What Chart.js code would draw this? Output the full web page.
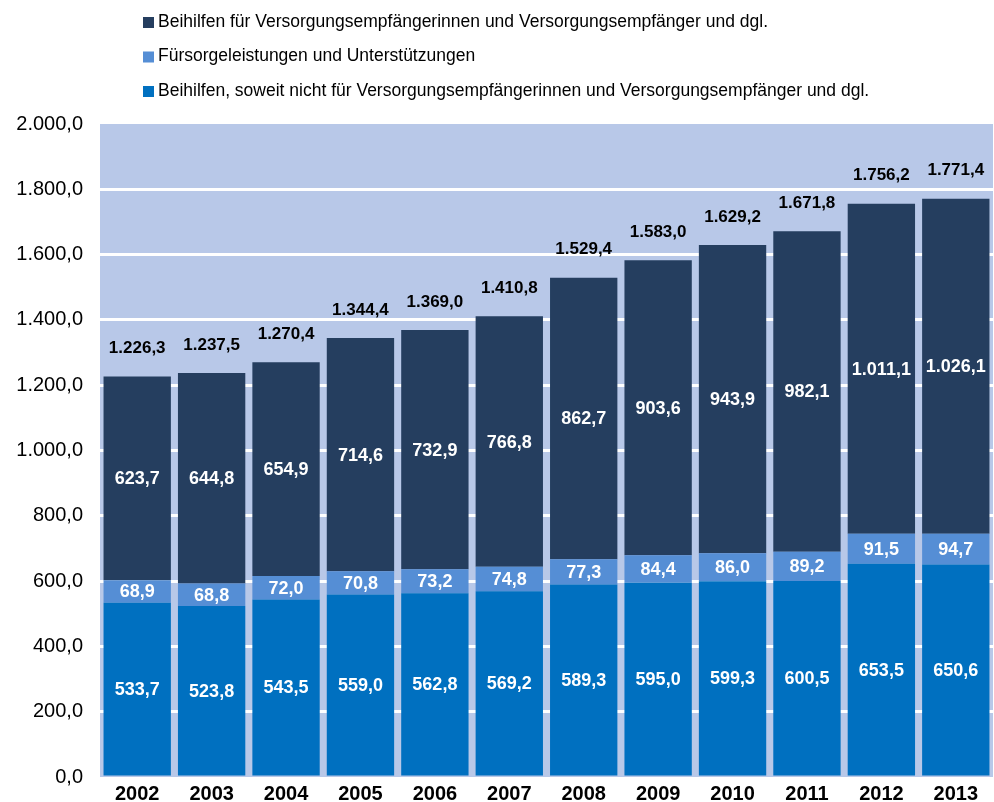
<!doctype html>
<html>
<head>
<title>Beihilfen</title>
<script src="https://cdn.jsdelivr.net/npm/chart.js@4.4.9/dist/chart.umd.min.js"></script>
<script>
const years = ['2002','2003','2004','2005','2006','2007','2008','2009','2010','2011','2012','2013'];
const beihilfenOhne = [533.7, 523.8, 543.5, 559.0, 562.8, 569.2, 589.3, 595.0, 599.3, 600.5, 653.5, 650.6];
const fuersorge = [68.9, 68.8, 72.0, 70.8, 73.2, 74.8, 77.3, 84.4, 86.0, 89.2, 91.5, 94.7];
const beihilfenVers = [623.7, 644.8, 654.9, 714.6, 732.9, 766.8, 862.7, 903.6, 943.9, 982.1, 1011.1, 1026.1];
const totals = [1226.3, 1237.5, 1270.4, 1344.4, 1369.0, 1410.8, 1529.4, 1583.0, 1629.2, 1671.8, 1756.2, 1771.4];

const FONT = '"Liberation Sans", Arial, sans-serif';

function fmt(v) {
  let [i, d] = v.toFixed(1).split('.');
  i = i.replace(/\B(?=(\d{3})+(?!\d))/g, '.');
  return i + ',' + d;
}

// light blue plot area behind everything
const plotBg = {
  id: 'plotBg',
  beforeDraw(chart) {
    const {ctx, chartArea: a} = chart;
    ctx.save();
    ctx.fillStyle = '#b8c8e8';
    ctx.fillRect(a.left, a.top, a.right - a.left, a.bottom - a.top);
    ctx.restore();
  }
};

// values in the segments and totals on top
const labels = {
  id: 'labels',
  afterDatasetsDraw(chart) {
    const ctx = chart.ctx;
    ctx.save();
    ctx.textAlign = 'center';
    ctx.textBaseline = 'middle';
    ctx.font = 'bold 18px ' + FONT;
    ctx.fillStyle = '#ffffff';
    chart.data.datasets.forEach((ds, di) => {
      chart.getDatasetMeta(di).data.forEach((bar, i) => {
        ctx.fillText(fmt(ds.data[i]), bar.x, (bar.y + bar.base) / 2 + 1);
      });
    });
    ctx.fillStyle = '#000000';
    ctx.font = 'bold 17px ' + FONT;
    const top = chart.getDatasetMeta(chart.data.datasets.length - 1).data;
    top.forEach((bar, i) => {
      ctx.fillText(fmt(totals[i]), bar.x, bar.y - 28);
    });
    ctx.restore();
  }
};

// legend in the order of the original, top series first
const legendBox = {
  id: 'legendBox',
  afterDraw(chart) {
    const ctx = chart.ctx;
    const items = chart.data.datasets.slice().reverse();
    ctx.save();
    ctx.font = '17.5px ' + FONT;
    ctx.textBaseline = 'middle';
    ctx.textAlign = 'left';
    items.forEach((ds, k) => {
      const y = 22 + k * 34.5;
      ctx.fillStyle = ds.backgroundColor;
      ctx.fillRect(143, y - 5, 11, 11);
      ctx.fillStyle = '#000000';
      ctx.fillText(ds.label, 158, y);
    });
    ctx.restore();
  }
};

function go() {
  new Chart(document.getElementById('c'), {
    type: 'bar',
    data: {
      labels: years,
      datasets: [
        { label: 'Beihilfen, soweit nicht für Versorgungsempfängerinnen und Versorgungsempfänger und dgl.',
          data: beihilfenOhne, backgroundColor: '#0070c0' },
        { label: 'Fürsorgeleistungen und Unterstützungen',
          data: fuersorge, backgroundColor: '#558ed5' },
        { label: 'Beihilfen für Versorgungsempfängerinnen und Versorgungsempfänger und dgl.',
          data: beihilfenVers, backgroundColor: '#253e5f' },
      ]
    },
    options: {
      responsive: false,
      animation: false,
      categoryPercentage: 1,
      barPercentage: 0.905,
      layout: { padding: { top: 124, right: 1, bottom: 0, left: 0 } },
      plugins: {
        legend: { display: false },
        tooltip: { enabled: false },
      },
      scales: {
        x: {
          stacked: true,
          grid: { display: false, drawTicks: false, tickLength: 0 },
          border: { display: false },
          ticks: { color: '#000', font: { family: FONT, size: 20, weight: 'bold', lineHeight: 1 }, padding: 7 },
          afterFit(s) { s.height = 25; },
        },
        y: {
          stacked: true,
          min: 0,
          max: 2000,
          border: { display: false },
          grid: {
            drawTicks: false,
            lineWidth: 3,
            color: c => (c.tick && (c.tick.value === 0 || c.tick.value === 2000)) ? 'rgba(0,0,0,0)' : '#ffffff',
          },
          ticks: {
            stepSize: 200,
            color: '#000',
            padding: 17,
            font: { family: FONT, size: 20, lineHeight: 0.4 },
            callback: v => fmt(v),
          },
          afterFit(s) { s.width = 100; },
        }
      }
    },
    plugins: [plotBg, labels, legendBox]
  });
}

window.onload = go;
</script>
</head>
<body style="margin:0">
<canvas id="c" width="994" height="802"></canvas>
</body>
</html>
